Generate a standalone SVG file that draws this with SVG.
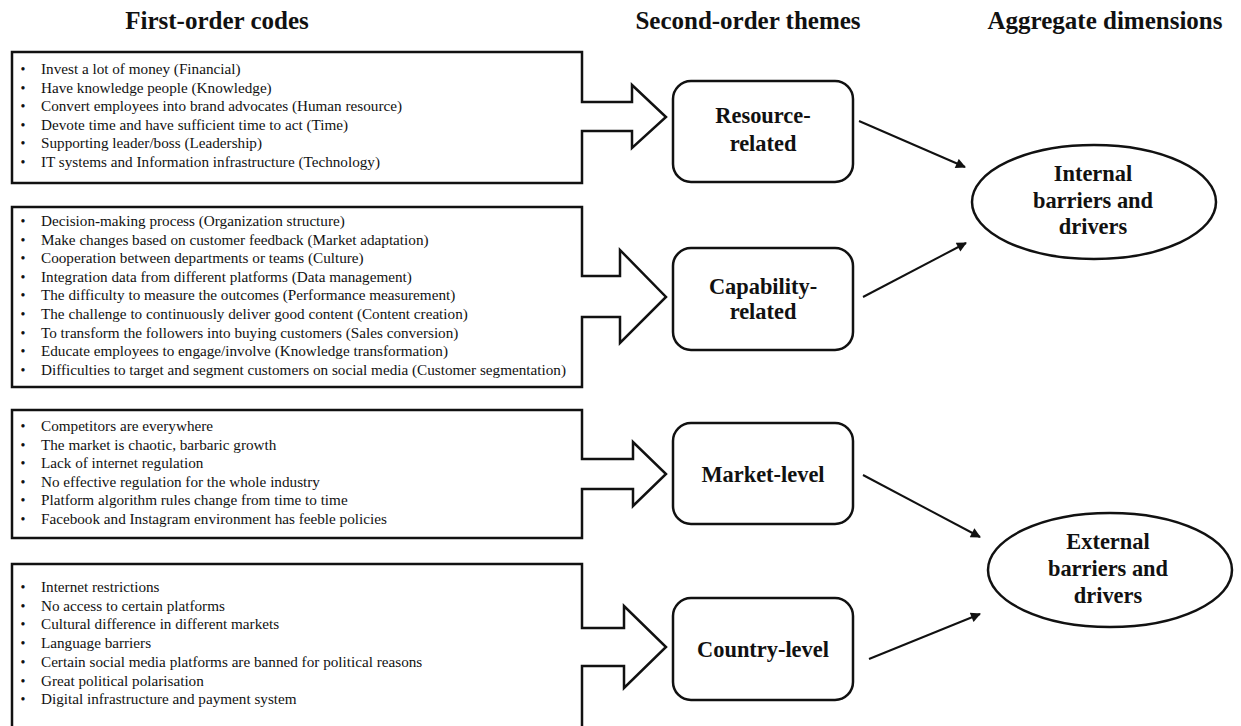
<svg xmlns="http://www.w3.org/2000/svg" width="1241" height="726" viewBox="0 0 1241 726">
<defs>
<style>
.title{font-family:"Liberation Serif","Times New Roman",serif;font-weight:bold;font-size:25px;fill:#111;text-anchor:middle}
.body{font-family:"Liberation Serif","Times New Roman",serif;font-size:15.2px;fill:#111}
.bul{font-family:"Liberation Serif","Times New Roman",serif;font-size:14px;fill:#111;text-anchor:middle}
.lbl{font-family:"Liberation Serif","Times New Roman",serif;font-weight:bold;font-size:22.4px;fill:#111;text-anchor:middle}
.blk{fill:#fff;stroke:#111;stroke-width:2.5;stroke-linejoin:miter}
.node{fill:#fff;stroke:#111;stroke-width:2.5}
.conn{stroke:#111;stroke-width:2;fill:none;marker-end:url(#ah)}
</style>
<marker id="ah" viewBox="0 0 10 10" refX="9" refY="5" markerWidth="6" markerHeight="5" markerUnits="strokeWidth" orient="auto">
<path d="M0,0 L10,5 L0,10 Z" fill="#111"/>
</marker>
</defs>
<rect width="1241" height="726" fill="#fff"/>

<g id="titles">
<text class="title" x="217" y="29">First-order codes</text>
<text class="title" x="748" y="29">Second-order themes</text>
<text class="title" x="1105" y="29">Aggregate dimensions</text>
</g>

<g id="codes-resource">
<path class="blk" d="M12,52 H582 V102 H632 V85 L666,117 L632,148 V131 H582 V183 H12 Z"/>
<g class="bul"><text x="23" y="74">•</text><text x="23" y="92.6">•</text><text x="23" y="111.2">•</text><text x="23" y="129.8">•</text><text x="23" y="148.4">•</text><text x="23" y="167">•</text></g>
<g class="body">
<text x="41" y="74">Invest a lot of money (Financial)</text>
<text x="41" y="92.6">Have knowledge people (Knowledge)</text>
<text x="41" y="111.2">Convert employees into brand advocates (Human resource)</text>
<text x="41" y="129.8">Devote time and have sufficient time to act (Time)</text>
<text x="41" y="148.4">Supporting leader/boss (Leadership)</text>
<text x="41" y="167">IT systems and Information infrastructure (Technology)</text>
</g>
</g>

<g id="codes-capability">
<path class="blk" d="M12,207 H582 V276 H620 V250 L666,297 L620,343 V317 H582 V387 H12 Z"/>
<g class="bul"><text x="23" y="226">•</text><text x="23" y="244.6">•</text><text x="23" y="263.2">•</text><text x="23" y="281.8">•</text><text x="23" y="300.4">•</text><text x="23" y="319">•</text><text x="23" y="337.6">•</text><text x="23" y="356.2">•</text><text x="23" y="374.8">•</text></g>
<g class="body">
<text x="41" y="226">Decision-making process (Organization structure)</text>
<text x="41" y="244.6">Make changes based on customer feedback (Market adaptation)</text>
<text x="41" y="263.2">Cooperation between departments or teams (Culture)</text>
<text x="41" y="281.8">Integration data from different platforms (Data management)</text>
<text x="41" y="300.4">The difficulty to measure the outcomes (Performance measurement)</text>
<text x="41" y="319">The challenge to continuously deliver good content (Content creation)</text>
<text x="41" y="337.6">To transform the followers into buying customers (Sales conversion)</text>
<text x="41" y="356.2">Educate employees to engage/involve (Knowledge transformation)</text>
<text x="41" y="374.8">Difficulties to target and segment customers on social media (Customer segmentation)</text>
</g>
</g>

<g id="codes-market">
<path class="blk" d="M12,410 H582 V459 H633 V442 L666,474 L633,506 V489 H582 V538 H12 Z"/>
<g class="bul"><text x="23" y="431">•</text><text x="23" y="449.6">•</text><text x="23" y="468.2">•</text><text x="23" y="486.8">•</text><text x="23" y="505.4">•</text><text x="23" y="524">•</text></g>
<g class="body">
<text x="41" y="431">Competitors are everywhere</text>
<text x="41" y="449.6">The market is chaotic, barbaric growth</text>
<text x="41" y="468.2">Lack of internet regulation</text>
<text x="41" y="486.8">No effective regulation for the whole industry</text>
<text x="41" y="505.4">Platform algorithm rules change from time to time</text>
<text x="41" y="524">Facebook and Instagram environment has feeble policies</text>
</g>
</g>

<g id="codes-country">
<path class="blk" d="M12,564 H582 V628 H624 V606 L666,647 L624,688 V666 H582 V745 H12 Z"/>
<g class="bul"><text x="23" y="592">•</text><text x="23" y="610.7">•</text><text x="23" y="629.4">•</text><text x="23" y="648.1">•</text><text x="23" y="666.8">•</text><text x="23" y="685.5">•</text><text x="23" y="704.2">•</text></g>
<g class="body">
<text x="41" y="592">Internet restrictions</text>
<text x="41" y="610.7">No access to certain platforms</text>
<text x="41" y="629.4">Cultural difference in different markets</text>
<text x="41" y="648.1">Language barriers</text>
<text x="41" y="666.8">Certain social media platforms are banned for political reasons</text>
<text x="41" y="685.5">Great political polarisation</text>
<text x="41" y="704.2">Digital infrastructure and payment system</text>
</g>
</g>

<g id="theme-resource">
<rect class="node" x="673" y="81" width="180" height="101" rx="18"/>
<text class="lbl" x="763" y="123">Resource-</text>
<text class="lbl" x="763" y="151">related</text>
</g>
<g id="theme-capability">
<rect class="node" x="673" y="248" width="180" height="102" rx="18"/>
<text class="lbl" x="763" y="294">Capability-</text>
<text class="lbl" x="763" y="319">related</text>
</g>
<g id="theme-market">
<rect class="node" x="673" y="423" width="180" height="101" rx="18"/>
<text class="lbl" x="763" y="482">Market-level</text>
</g>
<g id="theme-country">
<rect class="node" x="673" y="598" width="180" height="102" rx="18"/>
<text class="lbl" x="763" y="657">Country-level</text>
</g>

<g id="dim-internal">
<ellipse class="node" cx="1094" cy="202" rx="122" ry="57"/>
<text class="lbl" x="1093" y="181">Internal</text>
<text class="lbl" x="1093" y="208">barriers and</text>
<text class="lbl" x="1093" y="234">drivers</text>
</g>
<g id="dim-external">
<ellipse class="node" cx="1110" cy="570" rx="122" ry="57"/>
<text class="lbl" x="1108" y="549">External</text>
<text class="lbl" x="1108" y="576">barriers and</text>
<text class="lbl" x="1108" y="603">drivers</text>
</g>

<g id="connectors">
<line class="conn" x1="859" y1="121" x2="965" y2="167"/>
<line class="conn" x1="863" y1="297" x2="966" y2="243"/>
<line class="conn" x1="863" y1="475" x2="980" y2="537"/>
<line class="conn" x1="869" y1="659" x2="980" y2="614"/>
</g>
</svg>
